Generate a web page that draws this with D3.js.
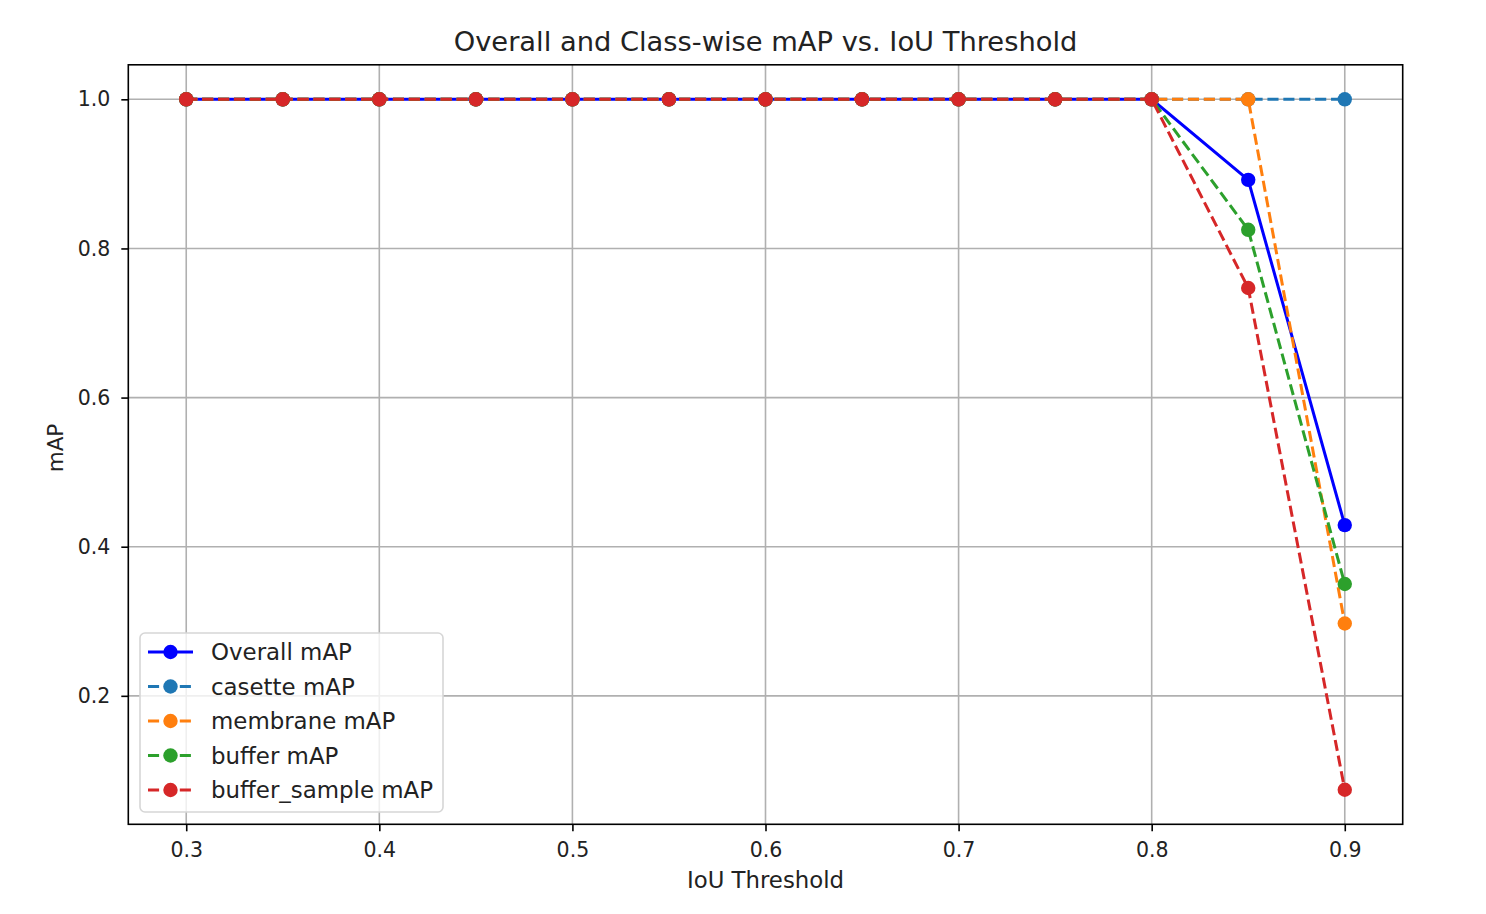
<!DOCTYPE html>
<html>
<head>
<meta charset="utf-8">
<script src="https://cdn.jsdelivr.net/npm/d3@7"></script>
<style>
  html, body { margin: 0; padding: 0; background: #fff; }
  svg { display: block; font-family: "DejaVu Sans", sans-serif; }
</style>
</head>
<body>
<svg id="chart" width="1486" height="914"></svg>
<script>
// ---- data ----
const thresholds = [0.3, 0.35, 0.4, 0.45, 0.5, 0.55, 0.6, 0.65, 0.7, 0.75, 0.8, 0.85, 0.9];
const overallMAP      = [1, 1, 1, 1, 1, 1, 1, 1, 1, 1, 1, 0.892, 0.429];
const casetteMAP      = [1, 1, 1, 1, 1, 1, 1, 1, 1, 1, 1, 1.0, 1.0];
const membraneMAP     = [1, 1, 1, 1, 1, 1, 1, 1, 1, 1, 1, 1.0, 0.297];
const bufferMAP       = [1, 1, 1, 1, 1, 1, 1, 1, 1, 1, 1, 0.825, 0.350];
const bufferSampleMAP = [1, 1, 1, 1, 1, 1, 1, 1, 1, 1, 1, 0.747, 0.074];
const seriesNames  = ["Overall mAP", "casette mAP", "membrane mAP", "buffer mAP", "buffer_sample mAP"];
const seriesColors = ["#0000ff", "#1f77b4", "#ff7f0e", "#2ca02c", "#d62728"];
const seriesDashed = [false, true, true, true, true];
const xTicks = [0.3, 0.4, 0.5, 0.6, 0.7, 0.8, 0.9];
const yTicks = [0.2, 0.4, 0.6, 0.8, 1.0];
const titleText = "Overall and Class-wise mAP vs. IoU Threshold";
const xLabel = "IoU Threshold";
const yLabel = "mAP";

const allSeries = [overallMAP, casetteMAP, membraneMAP, bufferMAP, bufferSampleMAP];

// ---- layout ----
const svg = d3.select("#chart");
const L = 128.3, R = 1402.7, T = 64.8, B = 824.3;

const xmin = d3.min(thresholds), xmax = d3.max(thresholds);
const xpad = (xmax - xmin) * 0.05;
const allVals = allSeries.flat();
const ymin = d3.min(allVals), ymax = d3.max(allVals);
const ypad = (ymax - ymin) * 0.05;

const x = d3.scaleLinear().domain([xmin - xpad, xmax + xpad]).range([L, R]);
const y = d3.scaleLinear().domain([ymin - ypad, ymax + ypad]).range([B, T]);

// grid
const grid = svg.append("g");
grid.selectAll("line.gx").data(xTicks).enter().append("line")
  .attr("x1", d => x(d)).attr("x2", d => x(d)).attr("y1", T).attr("y2", B)
  .attr("stroke", "#b0b0b0").attr("stroke-width", 1.6);
grid.selectAll("line.gy").data(yTicks).enter().append("line")
  .attr("y1", d => y(d)).attr("y2", d => y(d)).attr("x1", L).attr("x2", R)
  .attr("stroke", "#b0b0b0").attr("stroke-width", 1.6);

// series
const line = d3.line().x((d, i) => x(thresholds[i])).y(d => y(d));
allSeries.forEach((vals, s) => {
  const g = svg.append("g");
  g.append("path").datum(vals).attr("d", line)
    .attr("fill", "none").attr("stroke", seriesColors[s]).attr("stroke-width", 3)
    .attr("stroke-dasharray", seriesDashed[s] ? "11.1,4.8" : null);
  g.selectAll("circle").data(vals).enter().append("circle")
    .attr("cx", (d, i) => x(thresholds[i])).attr("cy", d => y(d)).attr("r", 7.2)
    .attr("fill", seriesColors[s]);
});

// axes
const xAxis = d3.axisBottom(x).tickValues(xTicks).tickFormat(d3.format(".1f")).tickSizeOuter(0).tickSize(7).tickPadding(11);
const yAxis = d3.axisLeft(y).tickValues(yTicks).tickFormat(d3.format(".1f")).tickSizeOuter(0).tickSize(7).tickPadding(11);
const gx = svg.append("g").attr("transform", `translate(0,${B})`).call(xAxis);
const gy = svg.append("g").attr("transform", `translate(${L},0)`).call(yAxis);
[gx, gy].forEach(g => {
  g.select(".domain").remove();
  g.selectAll(".tick line").attr("stroke", "#000").attr("stroke-width", 1.6);
  g.selectAll(".tick text").attr("font-size", 20.5).attr("fill", "#222").attr("font-family", "DejaVu Sans");
});

// frame
svg.append("rect").attr("x", L).attr("y", T).attr("width", R - L).attr("height", B - T)
  .attr("fill", "none").attr("stroke", "#000").attr("stroke-width", 1.6);

// title & labels
svg.append("text").attr("x", (L + R) / 2).attr("y", 51).attr("text-anchor", "middle")
  .attr("font-size", 27.3).attr("fill", "#222").text(titleText);
svg.append("text").attr("x", (L + R) / 2).attr("y", 888).attr("text-anchor", "middle")
  .attr("font-size", 22.8).attr("fill", "#222").text(xLabel);
svg.append("text").attr("transform", `translate(62.5,448) rotate(-90)`)
  .attr("text-anchor", "middle").attr("font-size", 21.5).attr("fill", "#222").text(yLabel);

// legend
const lg = svg.append("g");
lg.append("rect").attr("x", 140).attr("y", 633).attr("width", 303).attr("height", 179)
  .attr("rx", 5).attr("fill", "#fff").attr("fill-opacity", 0.8)
  .attr("stroke", "#d6d6d6").attr("stroke-width", 1.6);
seriesNames.forEach((name, i) => {
  const cy = 652 + i * 34.5;
  lg.append("line").attr("x1", 148).attr("x2", 193).attr("y1", cy).attr("y2", cy)
    .attr("stroke", seriesColors[i]).attr("stroke-width", 3)
    .attr("stroke-dasharray", seriesDashed[i] ? "11.1,4.8" : null);
  lg.append("circle").attr("cx", 170.5).attr("cy", cy).attr("r", 7.2).attr("fill", seriesColors[i]);
  lg.append("text").attr("x", 211).attr("y", cy).attr("dy", "0.36em")
    .attr("font-size", 22.9).attr("fill", "#222").text(name);
});
</script>
</body>
</html>
